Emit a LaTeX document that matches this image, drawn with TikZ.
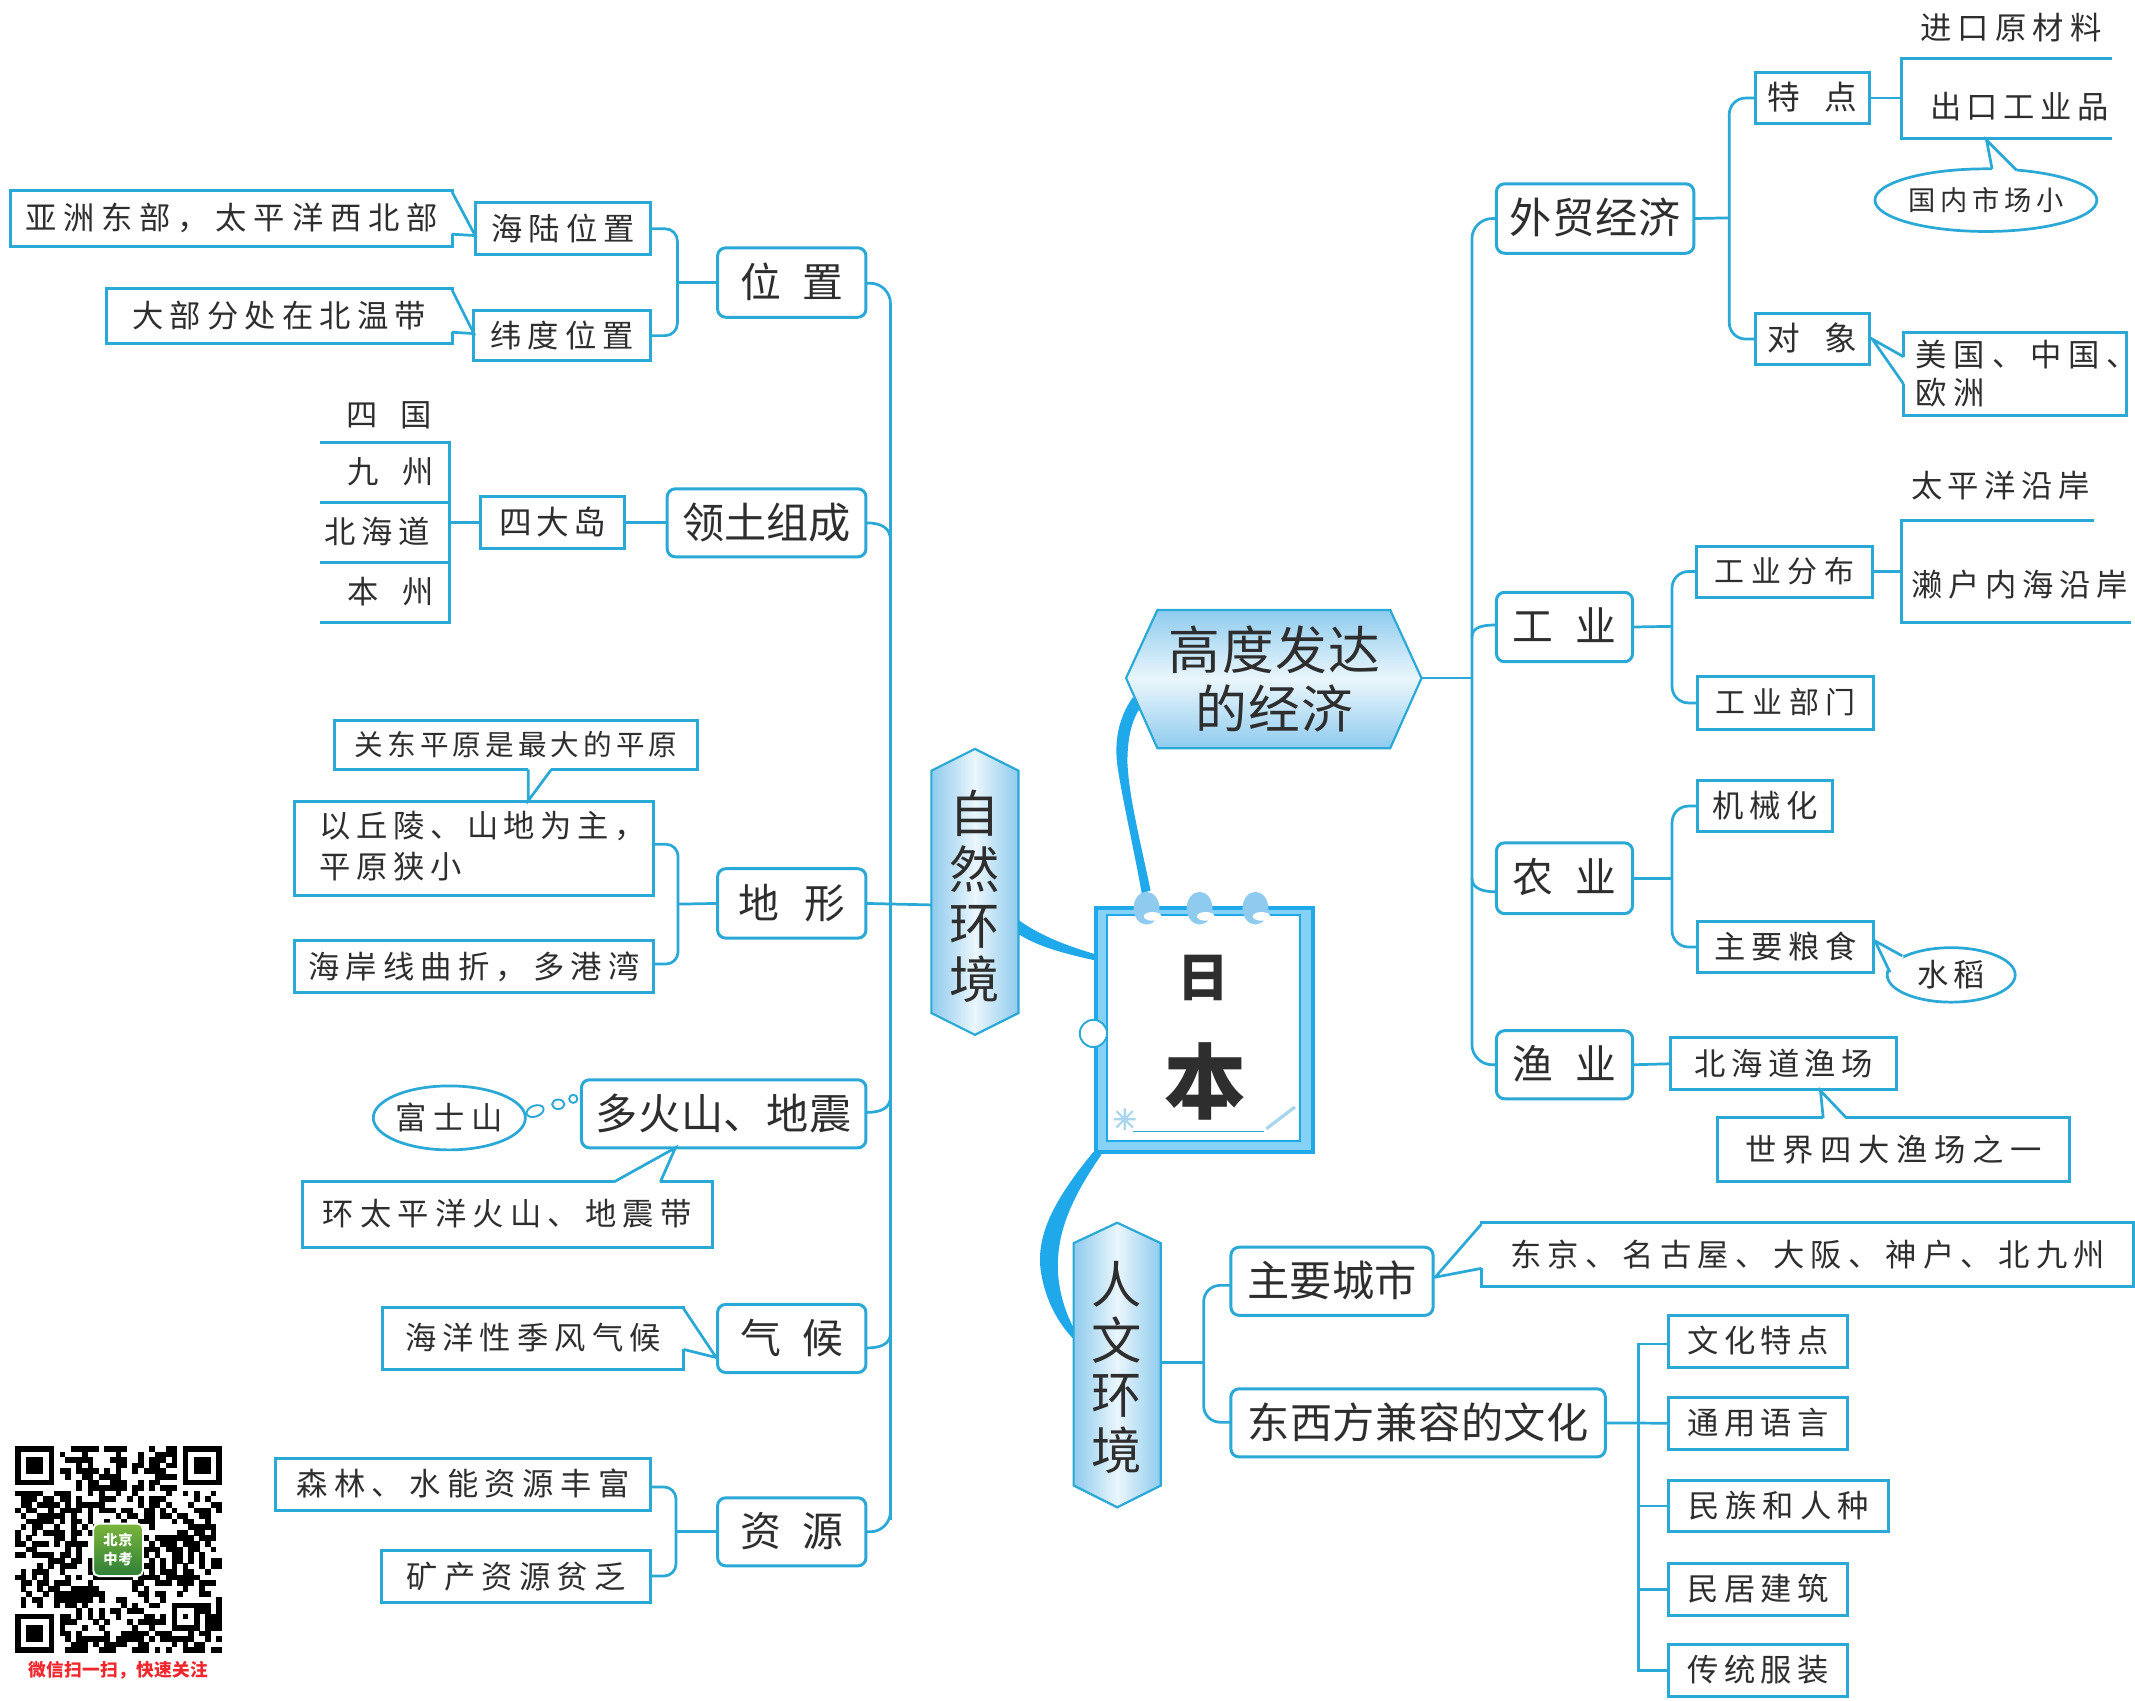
\documentclass[tikz,border=0pt]{standalone}
\usepackage{fontspec}
\setmainfont{Noto Sans CJK SC}
\usetikzlibrary{shapes.geometric}
\definecolor{cy}{HTML}{2AA8D6}
\definecolor{thick}{HTML}{1FA8EA}
\definecolor{band}{HTML}{86D2F6}
\definecolor{hexa}{HTML}{8FCBEE}
\definecolor{hexb}{HTML}{EAF6FC}
\definecolor{ink}{HTML}{2E2E2E}
\definecolor{pale}{HTML}{A9D6EE}
\definecolor{qrred}{HTML}{F0282D}
\definecolor{logoa}{HTML}{7BB53C}
\definecolor{logob}{HTML}{2F7F38}
\newcommand\T[3]{{\fontsize{#1}{#1}\selectfont\addfontfeature{LetterSpace=\fpeval{round(100*(#2-#1)/#1,1)}}\rule{0pt}{.84em}\rule[-.12em]{0pt}{.12em}#3}}
\newcommand\bx[7][sq]{\node[#1,minimum width={#5-#3},minimum height={#6-#4}] (#2) at ({(#3+#5)/2},{(#4+#6)/2}) {#7};}
\newcommand\wedgeat[3]{\fill[white] #1 -- #2 -- #3 -- cycle;\draw[white,line width=2.8pt] #1 -- #3;\draw[edge,line join=miter] #1 -- #2 -- #3;}
\tikzset{
  edge/.style={draw=cy,line width=2pt},
  link/.style={draw=cy,line width=2pt},
  sq/.style={draw=cy,line width=2.2pt,fill=white,inner sep=0pt,outer sep=0pt,text=ink,rectangle},
  rd/.style={sq,rounded corners=6pt},
  el/.style={draw=cy,line width=2pt,fill=white,inner sep=0pt,outer sep=0pt,text=ink,ellipse},
  lab/.style={inner sep=0pt,outer sep=0pt,text=ink},
  hexsty/.style={draw=cy,line width=1.6pt},
  heavy/.style={fill=thick,draw=none},
}
\begin{document}
\begin{tikzpicture}[x=1pt,y=-1pt]
\useasboundingbox (0,0) rectangle (1568,1249.2);
\fill[white] (0,0) rectangle (1568,1249.2);

% ---------- thick branches
\fill[heavy] (832,512) .. controls (821,528) and (818,545) .. (821,565) .. controls (825,590) and (833,625) .. (838.5,656) -- (845,654) .. controls (838,620) and (829,585) .. (828,560) .. controls (828,545) and (830,530) .. (838,519) -- cycle;
\fill[heavy] (747,675) .. controls (765,688) and (785,695) .. (805,701) -- (805,705.5) .. controls (780,700) and (762,695) .. (748,686) -- cycle;
\fill[heavy] (803,846) .. controls (775,880) and (762,905) .. (764,930) .. controls (766,950) and (775,970) .. (789,984) -- (789,976) .. controls (780,960) and (776,940) .. (777,925) .. controls (778,900) and (790,875) .. (809,848) -- cycle;

% ---------- left trunk
\coordinate (tlb) at (654,1125);
\coordinate (jw) at (497.5,207.5);
\coordinate (jd) at (498,664);
\coordinate (jz) at (496.5,1125);
\coordinate (jl) at (330,384);
\coordinate (l1) at (235,325);
\coordinate (l1e) at (330,325);
\coordinate (l2) at (235,369);
\coordinate (l2e) at (330,369);
\coordinate (l3) at (235,413);
\coordinate (l3e) at (330,413);
\coordinate (l4) at (235,457);
\coordinate (l4e) at (330,457);

\path[link,draw,rounded corners=15pt] (636,208) -| (tlb) |- (636,1125);

% ---------- left boxes
\bx{asia}{8}{140}{332}{181}{\T{23}{28}{亚洲东部，太平洋西北部}}
\bx{hailu}{349}{149}{478}{187}{\T{23}{27.5}{海陆位置}}
\bx{daibu}{78}{212}{332}{252}{\T{23}{27.5}{大部分处在北温带}}
\bx{weidu}{348}{228}{478}{265}{\T{23}{27.5}{纬度位置}}
\bx[rd]{weizhi}{527}{182}{636}{233}{\T{30}{46}{位置}}
\draw[link,rounded corners=9pt] (hailu.east) -| (jw) |- (weidu.east);
\draw[link] (jw) -- (weizhi.west);
\wedgeat{(332,141)}{(349,173)}{(332,172)}
\wedgeat{(332,213)}{(348,245)}{(332,244)}

\node[lab] (siguo) at (286,305) {\T{23}{40}{四国}};
\node[lab] (jiuzhou) at (287,347) {\T{23}{40}{九州}};
\node[lab] (beihaidao) at (277,391) {\T{23}{27}{北海道}};
\node[lab] (benzhou) at (287,435) {\T{23}{40}{本州}};
\draw[link,line width=2.2pt] (l1) -- (l1e) -- (l4e) -- (l4);
\draw[link,line width=2.2pt] (l2) -- (l2e);
\draw[link,line width=2.2pt] (l3) -- (l3e);
\bx{sida}{353}{365}{459}{403}{\T{24}{27}{四大岛}}
\bx[rd]{lingtu}{490}{359}{636}{409}{\T{31}{31}{领土组成}}
\draw[link] (jl) -- (sida.west);
\draw[link] (sida.east) -- (lingtu.west);
\draw[link] (lingtu.east) .. controls (648,384) and (654,388) .. (654,397);

\bx{guandong}{246}{529}{512}{565}{\T{21}{24}{关东平原是最大的平原}}
\bx{yiqiu}{216}{589}{480}{658}{}
\node[lab,anchor=west] (yiq1) at (235,607) {\T{23}{27}{以丘陵、山地为主，}};
\node[lab,anchor=west] (yiq2) at (235,637) {\T{23}{27}{平原狭小}};
\bx{haian}{216}{691}{480}{729}{\T{23}{27.5}{海岸线曲折，多港湾}}
\bx[rd]{dixing}{527}{638}{636}{689}{\T{30}{48}{地形}}
\draw[link,rounded corners=9pt] (yiqiu.east |- 0,620) -| (jd) |- (haian.east |- 0,708);
\draw[link] (jd) -- (dixing.west);
\wedgeat{(388,565)}{(388,588)}{(405,565)}

\bx[rd]{duohuo}{427}{793}{636}{843}{\T{31}{31.5}{多火山、地震}}
\bx{huantai}{222}{868}{523}{916}{\T{23}{27.5}{环太平洋火山、地震带}}
\wedgeat{(451,868)}{(496,843)}{(485,868)}
\node[el,minimum width=110pt,minimum height=47pt] (fuji) at (330,821) {\T{23}{28}{富士山}};
\node[el,draw=cy,line width=1.4pt,minimum width=13pt,minimum height=8pt,rotate=20] (bub1) at (393,816) {};
\node[el,draw=cy,line width=1.4pt,minimum width=9pt,minimum height=7pt] (bub2) at (410,811) {};
\node[el,draw=cy,line width=1.4pt,minimum width=6pt,minimum height=6pt] (bub3) at (421,807) {};
\draw[link] (duohuo.east |- 0,817) .. controls (647,817) and (654,814) .. (654,805);

\bx{haiyang}{281}{960}{502}{1006}{\T{23}{27.5}{海洋性季风气候}}
\bx[rd]{qihou}{527}{958}{636}{1008}{\T{30}{46}{气候}}
\wedgeat{(502,961)}{(526,997)}{(502,991)}
\draw[link] (qihou.east |- 0,990) .. controls (647,990) and (654,987) .. (654,979);

\bx{senlin}{202}{1071}{478}{1109}{\T{23}{27.7}{森林、水能资源丰富}}
\bx{kuang}{280}{1139}{478}{1177}{\T{23}{27.5}{矿产资源贫乏}}
\bx[rd]{ziyuan}{527}{1100}{636}{1150}{\T{30}{46}{资源}}
\draw[link,rounded corners=9pt] (senlin.east |- 0,1092) -| (jz) |- (kuang.east |- 0,1157.5);
\draw[link] (jz) -- (ziyuan.west);

% ---------- nature hexagon
\path[hexsty,left color=hexa,right color=hexa,middle color=hexb] (716,550) -- (748,566) -- (748,744) -- (716,760) -- (684,744) -- (684,566) -- cycle;
\coordinate (zw) at (684,664.6);
\draw[link] (dixing.east) -- (zw);
\node[lab] (zr1) at (716,598) {\T{37}{37}{自}};
\node[lab] (zr2) at (716,639) {\T{37}{37}{然}};
\node[lab] (zr3) at (716,680) {\T{37}{37}{环}};
\node[lab] (zr4) at (716,720) {\T{37}{37}{境}};

% ---------- economy hexagon
\path[hexsty,top color=hexa,bottom color=hexa,middle color=hexb] (827,498) -- (850,448) -- (1021,448) -- (1044,498) -- (1021,549.5) -- (850,549.5) -- cycle;
\node[lab] (gd1) at (936,478) {\T{38}{39}{高度发达}};
\node[lab] (gd2) at (936,521) {\T{38}{39}{的经济}};
\coordinate (ge) at (1044,498);
\coordinate (tr) at (1081,498);
\draw[link] (ge) -- (tr);

% ---------- notebook
\bx[sq,fill=band,draw=thick,line width=3pt]{nb}{805}{667}{964}{846}{}
\bx[sq,fill=white,draw=thick,line width=1.6pt]{nbin}{813}{672}{955}{838}{}
\node[lab] (ri) at (884,718) {\T{38}{38}{\bfseries 日}};
\node[lab] (ben) at (885,795) {\T{60}{60}{\bfseries 本}};
\foreach \rx in {842,881,922}{
  \fill[hexa] (\rx,667) ellipse (9.5pt and 12pt);
  \fill[white] (\rx+4.5,673) ellipse (6.5pt and 3.2pt);
}
\node[circle,draw=cy,line width=1.4pt,fill=white,minimum size=20pt,inner sep=0pt,outer sep=0pt] (hole) at (803,759) {};
\draw[cy,line width=1pt] (832,831) -- (928,831);
\draw[pale,line width=2.4pt] (930,829) -- (951,813);
\draw[pale,line width=1.6pt] (818,822) -- (834,822) (826,814) -- (826,830) (820,816) -- (832,828) (832,816) -- (820,828);

% ---------- right trunk & level 2
\bx[rd]{waimao}{1099}{135}{1244}{186}{\T{31}{31.5}{外贸经济}}
\bx[rd]{gongye}{1099}{435}{1199}{486}{\T{30}{46}{工业}}
\bx[rd]{nongye}{1099}{619}{1199}{671}{\T{30}{46}{农业}}
\bx[rd]{yuye}{1099}{757}{1199}{807}{\T{30}{46}{渔业}}
\draw[link,rounded corners=15pt] (waimao.west) -| (tr) |- (yuye.west);
\draw[link] (gongye.west |- 0,459) .. controls (1090,459) and (1081,460) .. (1081,468);
\draw[link] (nongye.west |- 0,655) .. controls (1090,655) and (1081,653) .. (1081,645);

% foreign trade
\coordinate (jm) at (1270,160);
\bx{tedian}{1289}{53}{1373}{91}{\T{24}{42}{特点}}
\bx{duixiang}{1289}{230}{1373}{268}{\T{24}{42}{对象}}
\draw[link] (waimao.east) -- (jm);
\draw[link,rounded corners=12pt] (tedian.west) -| (jm) |- (duixiang.west);
\coordinate (fk1) at (1396.5,72);
\coordinate (fk1t) at (1396.5,43);
\coordinate (fk1b) at (1396.5,102);
\coordinate (fk1te) at (1551,43);
\coordinate (fk1be) at (1551,102);
\draw[link] (tedian.east) -- (fk1);
\draw[link,line width=2.2pt] (fk1te) -- (fk1t) -- (fk1b) -- (fk1be);
\node[lab] (jinkou) at (1477,21) {\T{23}{27.5}{进口原材料}};
\node[lab] (chukou) at (1483,79) {\T{23}{27}{出口工业品}};
\node[el,minimum width=163pt,minimum height=46pt] (guonei) at (1458.5,147) {\T{20}{23.5}{国内市场小}};
\wedgeat{(1463,124)}{(1459,103)}{(1481,125)}
\bx{meiguo}{1398}{244}{1562}{305}{}
\node[lab,anchor=west] (mei1) at (1407,261) {\T{23}{28}{美国、中国、}};
\node[lab,anchor=west] (mei2) at (1407,289) {\T{23}{28}{欧洲}};
\wedgeat{(1398,262)}{(1375,249)}{(1398,282)}

% industry
\coordinate (jg) at (1228,460);
\bx{fenbu}{1246}{401}{1375}{438.5}{\T{22}{27}{工业分布}}
\bx{bumen}{1247}{497}{1376}{535.5}{\T{22}{27}{工业部门}}
\draw[link] (gongye.east) -- (jg);
\draw[link,rounded corners=12pt] (fenbu.west) -| (jg) |- (bumen.west);
\coordinate (fk2) at (1396.5,419.7);
\coordinate (fk2t) at (1396.5,382);
\coordinate (fk2b) at (1396.5,457);
\coordinate (fk2te) at (1538,382);
\coordinate (fk2be) at (1565,457);
\draw[link] (fenbu.east) -- (fk2);
\draw[link,line width=2.2pt] (fk2te) -- (fk2t) -- (fk2b) -- (fk2be);
\node[lab] (taiping) at (1469,357) {\T{23}{27}{太平洋沿岸}};
\node[lab] (laihu) at (1483,430) {\T{23}{27.2}{濑户内海沿岸}};

% agriculture
\coordinate (jn) at (1228,645);
\bx{jixie}{1247}{573}{1345.5}{611}{\T{23}{27}{机械化}}
\bx{liangshi}{1247}{677}{1376}{714}{\T{23}{27}{主要粮食}}
\draw[link] (nongye.east) -- (jn);
\draw[link,rounded corners=12pt] (jixie.west) -| (jn) |- (liangshi.west);
\node[el,minimum width=94pt,minimum height=40pt] (shuidao) at (1433,716) {\T{23}{26}{水稻}};
\wedgeat{(1397,702)}{(1377,691)}{(1388,714)}

% fishery
\bx{beihaiyu}{1227}{762}{1393}{800.5}{\T{23}{27}{北海道渔场}}
\bx{shijie}{1261}{821}{1520}{868}{\T{23}{27.8}{世界四大渔场之一}}
\draw[link] (yuye.east) -- (beihaiyu.west);
\wedgeat{(1339,821)}{(1337,801)}{(1356,821)}

% ---------- culture hexagon
\path[hexsty,left color=hexa,right color=hexa,middle color=hexb] (820.5,898) -- (852.5,913) -- (852.5,1091) -- (820.5,1107) -- (788.5,1091) -- (788.5,913) -- cycle;
\node[lab] (rw1) at (820,944) {\T{37}{37}{人}};
\node[lab] (rw2) at (820,985) {\T{37}{37}{文}};
\node[lab] (rw3) at (820,1025) {\T{37}{37}{环}};
\node[lab] (rw4) at (820,1066) {\T{37}{37}{境}};
\coordinate (rwe) at (852.5,1000.5);
\coordinate (jr) at (884,1000.5);
\bx[rd]{chengshi}{904}{916}{1052.5}{966}{\T{31}{31}{主要城市}}
\bx[rd]{dongxi}{904}{1020}{1179}{1070}{\T{31}{31.4}{东西方兼容的文化}}
\draw[link] (rwe) -- (jr);
\draw[link,rounded corners=12pt] (chengshi.west |- 0,944) -| (jr) |- (dongxi.west |- 0,1044.5);
\bx{cities}{1088}{898}{1567}{945}{\T{23}{27.6}{东京、名古屋、大阪、神户、北九州}}
\wedgeat{(1088,899)}{(1054,938)}{(1088,931.5)}

\coordinate (jc) at (1203.5,1044.5);
\bx{wenhua}{1225.5}{966}{1357}{1004}{\T{23}{27}{文化特点}}
\bx{tongyong}{1225.5}{1026}{1357}{1064.5}{\T{23}{27}{通用语言}}
\bx{minzu}{1225.5}{1087}{1387}{1125}{\T{23}{27.5}{民族和人种}}
\bx{minju}{1225.5}{1148}{1357}{1186.5}{\T{23}{27}{民居建筑}}
\bx{chuantong}{1225.5}{1207.5}{1357}{1246}{\T{23}{27}{传统服装}}
\draw[link] (dongxi.east) -- (tongyong.west);
\draw[link] (wenhua.west |- 0,987) -| (jc) |- (chuantong.west |- 0,1227);
\draw[link] (jc |- minzu.west) -- (minzu.west);
\draw[link] (jc |- minju.west) -- (minju.west);

% ---------- QR block
\begin{scope}[shift={(11,1062)}]
\def\mm{4.108}
\pgfmathsetseed{2718}
\foreach \i in {0,...,36}{
 \foreach \j in {0,...,36}{
  \pgfmathsetmacro\rr{rnd}
  \ifdim\rr pt<.5pt
   \fill[black] ({\i*\mm-.05},{\j*\mm-.05}) rectangle ({(\i+1)*\mm+.05},{(\j+1)*\mm+.05});
  \fi
 }
}
\fill[white] (-.1,-.1) rectangle ({8*\mm},{8*\mm});
\fill[white] ({29*\mm},-.1) rectangle ({37*\mm+.1},{8*\mm});
\fill[white] (-.1,{29*\mm}) rectangle ({8*\mm},{37*\mm+.1});
\fill[white] ({27*\mm},{27*\mm}) rectangle ({33*\mm},{33*\mm});
\foreach \px/\py in {0/0,30/0,0/30}{
 \fill[black] ({\px*\mm},{\py*\mm}) rectangle ({(\px+7)*\mm},{(\py+7)*\mm});
 \fill[white] ({(\px+1)*\mm},{(\py+1)*\mm}) rectangle ({(\px+6)*\mm},{(\py+6)*\mm});
 \fill[black] ({(\px+2)*\mm},{(\py+2)*\mm}) rectangle ({(\px+5)*\mm},{(\py+5)*\mm});
}
\fill[black] ({28*\mm},{28*\mm}) rectangle ({33*\mm},{33*\mm});
\fill[white] ({29*\mm},{29*\mm}) rectangle ({32*\mm},{32*\mm});
\fill[black] ({30*\mm},{30*\mm}) rectangle ({31*\mm},{31*\mm});
\end{scope}
\path[draw=white,line width=1.4pt,rounded corners=4pt,top color=logoa,bottom color=logob] (68.5,1119) rectangle (105,1157.5);
\node[lab,text=white] (logo1) at (86.7,1131) {\T{10.5}{11}{\bfseries 北京}};
\node[lab,text=white] (logo2) at (86.7,1145) {\T{10.5}{11}{\bfseries 中考}};
\node[lab,text=qrred] (qrcap) at (87,1227) {\T{13}{13.2}{\bfseries 微信扫一扫，快速关注}};
\end{tikzpicture}
\end{document}
